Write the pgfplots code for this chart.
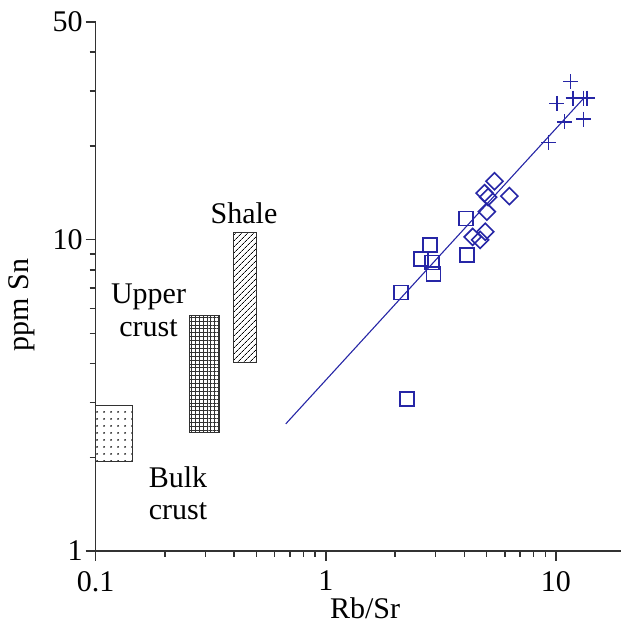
\documentclass[border=0pt]{standalone}
\usepackage{pgfplots}
\pgfplotsset{compat=1.18}
\usepackage{fontspec}
\setmainfont{Liberation Serif}
\usetikzlibrary{patterns.meta}
\definecolor{dblue}{RGB}{38,38,166}
\definecolor{axgray}{RGB}{50,50,50}
\begin{document}
\fontsize{30}{36}\selectfont
\begin{tikzpicture}
\path[use as bounding box] (0,0) rectangle (621pt,629pt);
\begin{axis}[
 at={(95.7pt,78pt)}, anchor=south west,
 scale only axis, width=525.3pt, height=529pt,
 xmode=log, ymode=log,
 xmin=0.1, xmax=19.2, ymin=1, ymax=50,
 axis x line*=bottom, axis y line*=left,
 axis line style={axgray, line width=1.5pt},
 tick align=outside,
 major tick length=10pt, minor tick length=6pt,
 every tick/.style={axgray, line width=1.5pt},
 xtick={0.1,1,10}, xticklabels={0.1,1,10},
 ytick={1,10,50}, yticklabels={1,10,50},
 minor xtick={0.2,0.3,0.4,0.5,0.6,0.7,0.8,0.9,2,3,4,5,6,7,8,9},
 minor ytick={2,3,4,5,6,7,8,9,20,30,40},
 /pgf/number format/assume math mode=true,
 ticklabel style={font=\fontsize{30}{36}\selectfont},
 yticklabel style={xshift=7pt},
 label style={font=\fontsize{30}{36}\selectfont},
 xlabel={Rb/Sr}, ylabel={ppm Sn},
 xlabel style={at={(axis description cs:0.5127,-0.1267)}, anchor=base},
 ylabel style={at={(axis description cs:-0.1403,0.465)}, anchor=center},
 clip=false,
]
% reference boxes
\addplot[draw=axgray, line width=0.9pt, pattern={Dots[distance=6.5pt,radius=1pt]}, pattern color=black]
 coordinates {(0.1,1.94) (0.145,1.94) (0.145,2.93) (0.1,2.93) (0.1,1.94)};
\addplot[draw=axgray, line width=0.9pt, pattern={Hatch[distance=3.9pt,line width=0.4pt]}, pattern color=axgray]
 coordinates {(0.255,2.41) (0.3435,2.41) (0.3435,5.70) (0.255,5.70) (0.255,2.41)};
\addplot[draw=axgray, line width=0.9pt, pattern={Lines[angle=45,distance=4pt,line width=0.8pt]}, pattern color=black]
 coordinates {(0.3965,4.04) (0.501,4.04) (0.501,10.56) (0.3965,10.56) (0.3965,4.04)};
% regression line
\addplot[dblue, line width=1.1pt, no marks] coordinates {(0.67,2.56) (13.3,28.6)};
% crosses
\addplot[only marks, mark=+, mark size=7.5pt, dblue, line width=1.6pt] coordinates {
 (11.6,32.2) (10.1,27.4) (11.9,28.5) (13.2,28.5) (13.7,28.5) (13.2,24.4) (10.9,23.9) (9.3,20.5)};
% squares
\addplot[only marks, mark=square, mark size=7pt, dblue, line width=1.6pt] coordinates {
 (4.07,11.7) (4.10,8.93) (2.84,9.61) (2.59,8.65) (2.89,8.44) (2.94,7.74) (2.12,6.76) (2.25,3.08)};
% diamonds
\addplot[only marks, mark=square, mark size=6pt, mark options={rotate=45}, dblue, line width=1.6pt] coordinates {
 (5.41,15.4) (4.90,14.1) (5.08,13.7) (6.28,13.8) (5.01,12.3) (4.93,10.6) (4.35,10.2) (4.69,9.98)};
% labels
\node[anchor=base] at (axis cs:0.4415,11.29) {Shale};
\node[anchor=base] at (axis cs:0.1697,6.25) {Upper};
\node[anchor=base] at (axis cs:0.1697,4.88) {crust};
\node[anchor=base] at (axis cs:0.228,1.594) {Bulk};
\node[anchor=base] at (axis cs:0.228,1.258) {crust};
\end{axis}
\end{tikzpicture}
\end{document}
